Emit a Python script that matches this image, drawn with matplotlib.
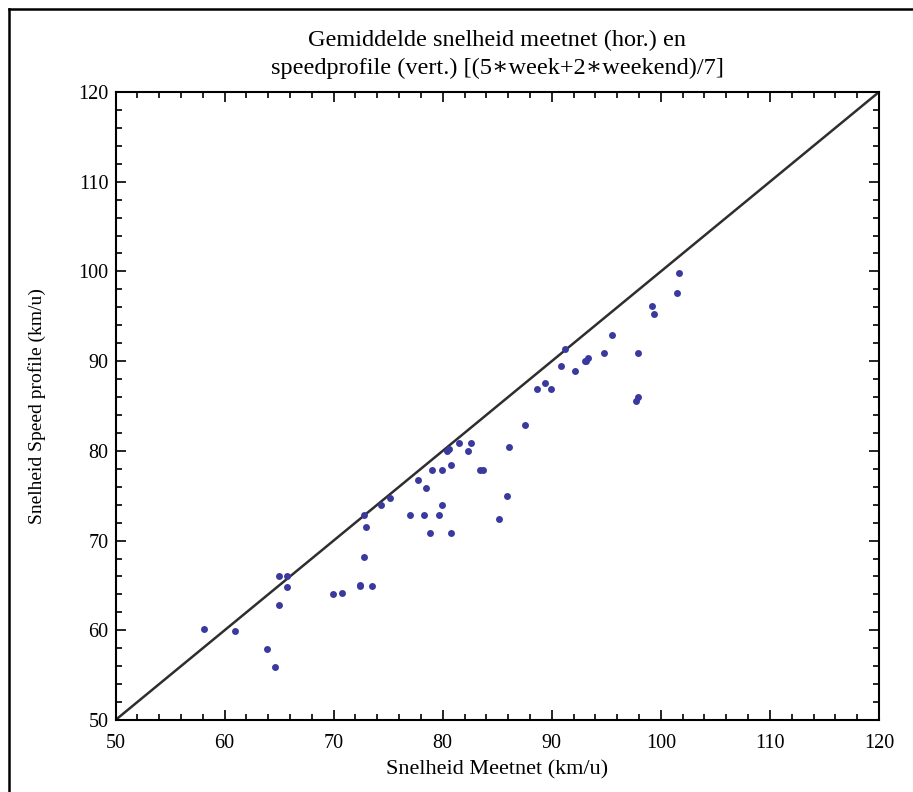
import matplotlib
matplotlib.use("Agg")
import matplotlib.pyplot as plt
from matplotlib.lines import Line2D
from matplotlib.ticker import MultipleLocator

meetnet = [58.1, 61.0, 63.9, 64.6, 65.0, 65.7, 65.7, 65.0, 69.9, 70.8,
           72.4, 72.4, 73.5, 72.8, 73.0, 72.8, 74.3, 75.2, 77.0, 78.3,
           79.7, 77.7, 78.5, 78.8, 80.8, 79.9, 79.0, 79.9, 80.8, 80.4,
           80.6, 81.5, 82.6, 82.3, 83.4, 83.7, 85.2, 85.9, 86.1, 87.5,
           88.6, 89.4, 89.9, 90.8, 91.2, 92.1, 93.0, 93.1, 93.3, 94.8,
           95.5, 97.9, 97.9, 97.7, 99.2, 99.4, 101.5, 101.7]
speedprofile = [60.1, 59.9, 57.9, 55.9, 66.0, 66.0, 64.8, 62.8, 64.0, 64.2,
                65.1, 64.9, 64.9, 68.2, 71.5, 72.9, 74.0, 74.8, 72.9, 72.9,
                72.9, 76.8, 75.9, 70.8, 70.8, 74.0, 77.9, 77.9, 78.4, 80.0,
                80.2, 80.9, 80.9, 80.0, 77.9, 77.9, 72.4, 75.0, 80.4, 82.9,
                86.9, 87.6, 86.9, 89.5, 91.4, 88.9, 90.0, 90.0, 90.4, 90.9,
                92.9, 90.9, 86.0, 85.6, 96.2, 95.3, 97.6, 99.8]
diag = [50, 120]
xticks = [50, 60, 70, 80, 90, 100, 110, 120]
yticks = [50, 60, 70, 80, 90, 100, 110, 120]

serif = ['Liberation Serif', 'DejaVu Serif']
plt.rcParams['font.family'] = serif

fig = plt.figure(figsize=(9.13, 7.92), dpi=100)
ax = fig.add_axes([115.5 / 913, 72 / 792, 763.5 / 913, 628 / 792])

ax.plot(diag, diag, color='#2e2e2e', lw=1.8, zorder=2)
ax.plot(meetnet, speedprofile, 'o', ms=5.0, color='#3a3a9e',
        markeredgewidth=0, zorder=3)

ax.set_xlim(50, 120)
ax.set_ylim(50, 120)
ax.set_xticks(xticks)
ax.set_yticks(yticks)
ax.xaxis.set_minor_locator(MultipleLocator(2))
ax.yaxis.set_minor_locator(MultipleLocator(2))
ax.tick_params(which='both', direction='in', top=True, right=True,
               labelsize=14.5, color='black', width=1.2)
ax.tick_params(which='major', length=7)
ax.tick_params(which='minor', length=4)
ax.tick_params(axis='x', which='major', pad=10)
ax.tick_params(axis='y', which='major', pad=5)
for s in ax.spines.values():
    s.set_linewidth(1.5)
    s.set_color('black')

ax.set_xlabel('Snelheid Meetnet (km/u)', fontsize=16, labelpad=5)
ax.set_ylabel('Snelheid Speed profile (km/u)', fontsize=14, labelpad=23)
ax.set_title('Gemiddelde snelheid meetnet (hor.) en\n'
             'speedprofile (vert.) [(5\u2217week+2\u2217weekend)/7]',
             fontsize=17.5, linespacing=1.4, pad=13)

# outer frame (left and top edges visible)
fig.add_artist(Line2D([9 / 913, 9 / 913], [0, 1 - 8.5 / 792],
                      transform=fig.transFigure, color='black', lw=1.8))
fig.add_artist(Line2D([9 / 913, 1], [1 - 8.5 / 792, 1 - 8.5 / 792],
                      transform=fig.transFigure, color='black', lw=1.8))

fig.savefig('out.png', dpi=100)
